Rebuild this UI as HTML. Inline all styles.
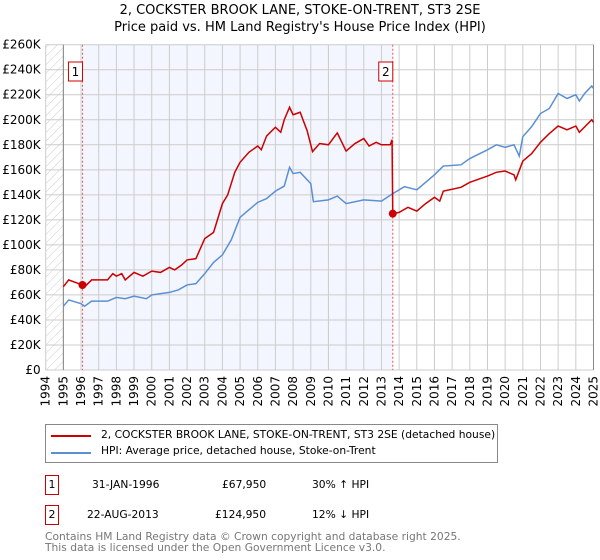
<!DOCTYPE html>
<html><head><meta charset="utf-8"><style>
body{margin:0;background:#fff;font-family:"DejaVu Sans","Liberation Sans",sans-serif;}
#wrap{position:relative;width:600px;height:560px;overflow:hidden;}
.t{position:absolute;font-size:10.7px;color:#000;white-space:nowrap;}
</style></head><body><div id="wrap">
<div class="t" style="left:0;width:600px;text-align:center;top:3px;font-size:13px;">2, COCKSTER BROOK LANE, STOKE-ON-TRENT, ST3 2SE</div>
<div class="t" style="left:0;width:600px;text-align:center;top:20px;font-size:13px;">Price paid vs. HM Land Registry's House Price Index (HPI)</div>
<svg id="chart" width="600" height="420" style="position:absolute;left:0;top:0;font-family:'DejaVu Sans','Liberation Sans',sans-serif;font-size:12px;"></svg>
<div style="position:absolute;left:45px;top:424px;width:451px;height:37px;border:1px solid #888;">
<div style="position:absolute;left:5px;top:10px;width:40px;height:2px;background:#cc0000;"></div>
<div class="t" style="left:55px;top:3px;">2, COCKSTER BROOK LANE, STOKE-ON-TRENT, ST3 2SE (detached house)</div>
<div style="position:absolute;left:5px;top:27px;width:40px;height:2px;background:#5b8fd4;"></div>
<div class="t" style="left:55px;top:19px;">HPI: Average price, detached house, Stoke-on-Trent</div>
</div>
<div style="position:absolute;left:45px;top:475px;width:12px;height:18px;border:1px solid #cc0000;font-size:11px;text-align:center;line-height:18px;">1</div>
<div class="t" style="left:92px;top:478px;">31-JAN-1996</div>
<div class="t" style="left:222px;top:478px;">£67,950</div>
<div class="t" style="left:312px;top:478px;">30% ↑ HPI</div>
<div style="position:absolute;left:45px;top:505px;width:12px;height:18px;border:1px solid #cc0000;font-size:11px;text-align:center;line-height:18px;">2</div>
<div class="t" style="left:87px;top:508px;">22-AUG-2013</div>
<div class="t" style="left:215px;top:508px;">£124,950</div>
<div class="t" style="left:312px;top:508px;">12% ↓ HPI</div>
<div class="t" style="left:45px;top:531px;color:#777;line-height:11px;">Contains HM Land Registry data © Crown copyright and database right 2025.<br>This data is licensed under the Open Government Licence v3.0.</div>
</div>
<script>
const hpiYears=[1995,1995.3,1996,1996.2,1996.6,1997.5,1998,1998.5,1999,1999.7,2000,2001,2001.5,2002,2002.5,2003,2003.5,2004,2004.5,2005,2005.5,2006,2006.5,2007,2007.5,2007.8,2008,2008.4,2009,2009.15,2010,2010.5,2011,2012,2013,2013.64,2014.3,2015,2016,2016.5,2017.5,2018,2019,2019.5,2020,2020.5,2020.8,2021,2021.5,2022,2022.5,2023,2023.5,2024,2024.2,2024.5,2024.9,2025];
const hpiValues=[51,56,53,51,55,55,58,57,59,57,60,62,64,68,69,77,86,92,104,122,128,134,137,143,147,162,157,158,149,134.5,136,139,133,136,135,141,146.5,144,156,163,164,169,176,180,178,180,171,186.5,194.5,205,209,221,217,220,215,221,227,225];
const priceYears=[1995,1995.3,1996.08,1996.2,1996.6,1997.5,1997.8,1998,1998.3,1998.5,1999,1999.5,2000,2000.5,2001,2001.3,2001.7,2002,2002.5,2003,2003.5,2004,2004.3,2004.7,2005,2005.5,2006,2006.2,2006.5,2007,2007.3,2007.5,2007.8,2008,2008.4,2008.8,2009.1,2009.5,2010,2010.5,2011,2011.5,2012,2012.3,2012.7,2013,2013.5,2013.6,2013.64,2014,2014.5,2015,2015.5,2016,2016.3,2016.5,2017.5,2018,2019,2019.5,2020,2020.5,2020.6,2021,2021.5,2022,2022.5,2023,2023.5,2024,2024.2,2024.9,2025];
const priceValues=[66.6,72,67.95,66.5,72,72,77,75,77,72,78,75,79,78,82,80,84,88,89,105,110,133,140,158,166,174,179,176,187,194,190,200,210,204,206,191,174.5,181,180,189.5,175,181,185,179,182,180,180,184,124.95,126,130,127,133,138,135,143,146,150,155,158,159,156,152,167,173,182,189,195,192,195,190,200,198];
const saleYears=[1996.08,2013.64];
const saleValues=[67.95,124.95];
const saleLabels=["1","2"];
const yTicks=[0,20,40,60,80,100,120,140,160,180,200,220,240,260];
const xTicks=[1994,1995,1996,1997,1998,1999,2000,2001,2002,2003,2004,2005,2006,2007,2008,2009,2010,2011,2012,2013,2014,2015,2016,2017,2018,2019,2020,2021,2022,2023,2024,2025];

const X0=45.7,X1=593.5,Y0=370,Y1=44.7;
const xs=y=>X0+(y-1994)/31*(X1-X0);
const ys=v=>Y0-(v/260)*(Y0-Y1);
const svg=document.getElementById('chart');
const NS='http://www.w3.org/2000/svg';
function mk(tag,attrs){const e=document.createElementNS(NS,tag);for(const k in attrs)e.setAttribute(k,attrs[k]);svg.appendChild(e);return e;}
const defs=mk('defs',{});
defs.innerHTML='<pattern id="hatch" width="6" height="6" patternUnits="userSpaceOnUse" patternTransform="rotate(45)"><line x1="0" y1="0" x2="0" y2="6" stroke="#ccc" stroke-width="1"/></pattern>';
let r=mk('rect',{x:X0,y:Y1,width:xs(1995)-X0,height:Y0-Y1,fill:'url(#hatch)'});


r=mk('rect',{x:xs(saleYears[0]),y:Y1,width:xs(saleYears[1])-xs(saleYears[0]),height:Y0-Y1,fill:'#f3f6fe'});


yTicks.forEach(v=>{
 const l=mk('line',{x1:X0,x2:X1,y1:ys(v),y2:ys(v),stroke:'#ccc','stroke-width':1});
 
 
 const t=mk('text',{x:X0-5,y:ys(v)+4,'text-anchor':'end'});
 t.textContent=v===0?'£0':'£'+v+'K';
 
 
});
xTicks.forEach(y=>{
 const l=mk('line',{x1:xs(y),x2:xs(y),y1:Y1,y2:Y0,stroke:'#ccc','stroke-width':1});
 
 
 const t=mk('text',{x:0,y:0,'text-anchor':'end',transform:`translate(${xs(y)+4},${Y0+6}) rotate(-90)`});
 t.textContent=y;
 
 
});
let a=mk('line',{x1:xs(1995),x2:xs(1995),y1:Y1,y2:Y0,stroke:'#888','stroke-width':1});


a=mk('line',{x1:X1,x2:X1,y1:Y1,y2:Y0,stroke:'#888','stroke-width':1});


saleYears.forEach((y,i)=>{
 const l=mk('line',{x1:xs(y),x2:xs(y),y1:Y1,y2:Y0,stroke:'#e55','stroke-width':1,'stroke-dasharray':'2,2'});
 
 
 const b=mk('rect',{x:xs(y)-14,y:62,width:14,height:19,fill:'#fff',stroke:'#cc0000'});
 
 
 const t=mk('text',{x:xs(y)-7,y:76,'text-anchor':'middle'});
 t.textContent=saleLabels[i];
 
 
});
const p1=mk('polyline',{points:hpiYears.map((y,i)=>xs(y)+','+ys(hpiValues[i])).join(' '),fill:'none',stroke:'#5b8fd4','stroke-width':1.5});


const p2=mk('polyline',{points:priceYears.map((y,i)=>xs(y)+','+ys(priceValues[i])).join(' '),fill:'none',stroke:'#cc0000','stroke-width':1.5});


saleYears.forEach((y,i)=>{
 const c=mk('circle',{cx:xs(y),cy:ys(saleValues[i]),r:4,fill:'#cc0000'});
 
 
});
</script>
</body></html>
